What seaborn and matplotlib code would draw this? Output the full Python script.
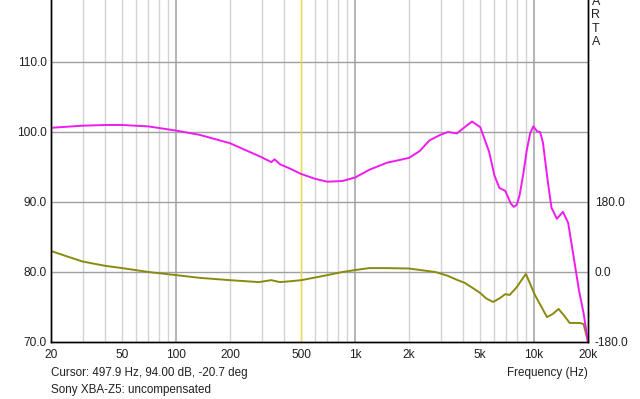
import matplotlib
matplotlib.use("Agg")
import matplotlib.pyplot as plt
import seaborn as sns

# SPL curve (dB)
spl_freq = [20, 30, 40, 50, 70, 100, 135, 200, 300, 340, 355, 380, 430, 500, 600,
            700, 850, 1000, 1200, 1500, 2000, 2300, 2600, 3000, 3300, 3700, 4100,
            4500, 5000, 5600, 6000, 6400, 6900, 7400, 7700, 8000, 8300, 8700, 9100,
            9500, 9900, 10400, 10800, 11200, 11900, 12500, 13400, 14500, 15500,
            16500, 17800, 18900, 20000]
spl_db = [100.6, 100.9, 101.0, 101.0, 100.8, 100.2, 99.6, 98.4, 96.4, 95.7, 96.1,
          95.4, 94.8, 94.0, 93.3, 92.9, 93.0, 93.5, 94.6, 95.6, 96.3, 97.3, 98.8,
          99.6, 100.0, 99.8, 100.7, 101.5, 100.7, 97.2, 93.8, 92.0, 91.6, 89.8,
          89.3, 89.6, 91.0, 94.0, 97.4, 99.8, 100.8, 100.1, 100.0, 98.5, 93.1,
          89.2, 87.6, 88.6, 87.0, 82.7, 77.4, 74.1, 70.0]

# phase curve (deg)
ph_freq = [20, 25, 30, 40, 50, 70, 100, 135, 200, 290, 340, 380, 430, 500,
           600, 700, 850, 1000, 1200, 1500, 2000, 2500, 2800, 3000, 3300, 3700,
           4100, 4500, 5000, 5400, 5900, 6400, 6900, 7300, 8000, 8500, 9000,
           10100, 11000, 11800, 12700, 13700, 14700, 15800, 17000, 18000, 18900,
           20000]
ph_deg = [54, 39, 27, 16, 10, 0, -8, -15, -21, -26, -21, -26, -24, -21,
          -14, -8, 0, 5, 10, 10, 9, 3, 0, -4, -10, -20, -28, -40, -54, -68, -77,
          -68, -57, -59, -39, -21, -5, -59, -90, -116, -108, -95, -112, -131,
          -131, -131, -134, -180]

x_ticks = [20, 50, 100, 200, 500, 1000, 2000, 5000, 10000, 20000]
x_labels = ["20", "50", "100", "200", "500", "1k", "2k", "5k", "10k", "20k"]
db_ticks = [70, 80, 90, 100, 110]
ph_ticks = [-180, 0, 180]
cursor_hz = 497.9

sns.set_style("white")
plt.rcParams["font.family"] = ["Liberation Sans", "DejaVu Sans"]

fig = plt.figure(figsize=(6.4, 3.99), dpi=100)
ax = fig.add_axes([51 / 640, 57 / 399, 537 / 640, 342 / 399])
ax2 = ax.twinx()

# phase behind, SPL in front
ax.set_zorder(1)
ax.patch.set_visible(False)
ax2.set_zorder(0)

sns.lineplot(x=ph_freq, y=ph_deg, ax=ax2, color="#8a8a10", lw=1.4)
sns.lineplot(x=spl_freq, y=spl_db, ax=ax, color="#ee1cee", lw=1.4)

ax.set_xscale("log")
ax.set_xlim(20, 20000)
minor = [m * 10 ** e for e in range(1, 5) for m in range(1, 10)]
minor = [f for f in minor if 20 < f < 20000]
ax.set_xticks(minor, minor=True)
ax.set_xticks(x_ticks)
ax.set_xticklabels(x_labels)
ax.xaxis.set_minor_formatter(plt.NullFormatter())

# 7 px per dB on the left, 70 px per 180 deg on the right
db_lo, db_hi = 70, 70 + 342 / 7
ph_lo, ph_hi = -180, -180 + 342 / 70 * 180
ax.set_ylim(db_lo, db_hi)
ax2.set_ylim(ph_lo, ph_hi)

# grid drawn on the back axes so curves sit above it
for f in minor:
    dark = f in (100, 1000, 10000)
    ax2.axvline(f, color="#a8a8a8" if dark else "#d4d4d4", lw=1.2 if dark else 1, zorder=0)
for v in db_ticks[1:]:
    ax2.axhline(ph_lo + (v - db_lo) * 18, color="#a0a0a0", lw=1, zorder=0)
ax2.axvline(cursor_hz, color="#e8e040", lw=1, zorder=0.5)

ax.set_yticks(db_ticks)
ax.set_yticklabels([f"{v:.1f}" for v in db_ticks])
ax2.set_yticks(ph_ticks)
ax2.set_yticklabels([f"{v:.1f}" for v in ph_ticks])

for a in (ax, ax2):
    a.tick_params(which="both", length=0, labelsize=8.6, colors="#202020")
    a.set_xlabel("")
    a.set_ylabel("")
    a.spines["top"].set_visible(False)
    for s in ("left", "bottom", "right"):
        a.spines[s].set_color("black")
        a.spines[s].set_linewidth(1)
ax.tick_params(axis="x", pad=5)
ax.tick_params(axis="y", pad=3)
ax2.tick_params(axis="y", pad=5)

fig.text(51 / 640, 1 - 373 / 399, "Cursor: 497.9 Hz, 94.00 dB, -20.7 deg",
         fontsize=8.4, va="center", ha="left", color="#202020")
fig.text(51 / 640, 1 - 390 / 399, "Sony XBA-Z5: uncompensated",
         fontsize=8.4, va="center", ha="left", color="#202020")
fig.text(588 / 640, 1 - 373 / 399, "Frequency (Hz)",
         fontsize=8.4, va="center", ha="right", color="#202020")
fig.text(596 / 640, 1 + 4 / 399, "A\nR\nT\nA", fontsize=9, va="top", ha="center",
         linespacing=1.15, color="#202020")

fig.savefig("out.png", dpi=100)
